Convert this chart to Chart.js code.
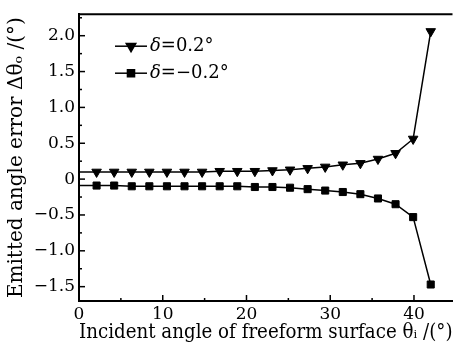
<!DOCTYPE html>
<html>
<head>
<meta charset="utf-8">
<script src="https://cdn.jsdelivr.net/npm/chart.js@4/dist/chart.umd.min.js"></script>
<style>
html, body { margin: 0; padding: 0; background: #fff; overflow: hidden; }
#wrap { width: 459px; height: 344px; }
</style>
</head>
<body>
<div id="wrap"><canvas id="err-chart" width="459" height="344"></canvas></div>
<script>
// incident angle (deg) and emitted angle error (deg) for both deviations
const incidentAngles = [0, 2.1, 4.2, 6.3, 8.4, 10.5, 12.6, 14.7, 16.8, 18.9, 21,
                        23.1, 25.2, 27.3, 29.4, 31.5, 33.6, 35.7, 37.8, 39.9, 42];
const errPlus  = [0.10, 0.10, 0.10, 0.10, 0.10, 0.10, 0.10, 0.10, 0.11, 0.11, 0.11,
                  0.12, 0.13, 0.15, 0.17, 0.20, 0.22, 0.28, 0.36, 0.56, 2.06];
const errMinus = [-0.09, -0.09, -0.09, -0.10, -0.10, -0.10, -0.10, -0.10, -0.10, -0.10, -0.11,
                  -0.11, -0.12, -0.14, -0.16, -0.18, -0.21, -0.27, -0.35, -0.53, -1.47];
const seriesNames = ['δ=0.2°', 'δ=−0.2°'];
const seriesMarkers = ['triangle', 'rect'];
const xTickValues = [0, 10, 20, 30, 40];
const yTickValues = [-1.5, -1, -0.5, 0, 0.5, 1, 1.5, 2];

const serif = "'DejaVu Serif', serif";
const black = '#000';

function toPoints(values){
  return incidentAngles.map(function(a, i){ return {x: a, y: values[i]}; });
}

// first point sits on the y axis and is hidden in the original
function hideFirst(size){
  return function(c){ return c.dataIndex === 0 ? 0 : size; };
}

// inward tick marks, top frame line and the legend inside the plot
const framePlugin = {
  id: 'frame',
  afterDraw: function(chart){
    const ctx = chart.ctx;
    const a = chart.chartArea;
    const xs = chart.scales.x, ys = chart.scales.y;
    ctx.save();
    ctx.strokeStyle = black;
    ctx.lineWidth = 2;
    ctx.beginPath();
    ctx.moveTo(a.left - 1, a.top);
    ctx.lineTo(a.right, a.top);
    ctx.stroke();

    ctx.lineWidth = 1.5;
    yTickValues.forEach(function(v){
      [[v, 6], [v + 0.25, 3]].forEach(function(t){
        if (t[0] > ys.max) return;
        const py = ys.getPixelForValue(t[0]);
        ctx.beginPath();
        ctx.moveTo(a.left, py);
        ctx.lineTo(a.left + t[1], py);
        ctx.stroke();
      });
    });
    xTickValues.forEach(function(v){
      [[v, 6], [v + 5, 3]].forEach(function(t){
        if (t[0] > xs.max || t[0] === 0) return;
        const px = xs.getPixelForValue(t[0]);
        ctx.beginPath();
        ctx.moveTo(px, a.bottom);
        ctx.lineTo(px, a.bottom - t[1]);
        ctx.stroke();
      });
    });

    // legend
    seriesNames.forEach(function(name, i){
      const ly = a.top + 32 + i * 27;
      ctx.lineWidth = 1.5;
      ctx.beginPath();
      ctx.moveTo(115, ly);
      ctx.lineTo(147, ly);
      ctx.stroke();
      ctx.fillStyle = black;
      Chart.helpers.drawPoint(ctx, {
        pointStyle: seriesMarkers[i],
        radius: i === 0 ? 5.5 : 5,
        rotation: i === 0 ? 180 : 0,
        borderWidth: 1
      }, 131, ly);
      ctx.textBaseline = 'middle';
      ctx.textAlign = 'left';
      ctx.font = 'italic 18px ' + serif;
      ctx.fillText(name.charAt(0), 150, ly);
      const w = ctx.measureText(name.charAt(0)).width;
      ctx.font = '18px ' + serif;
      ctx.fillText(name.slice(1), 150 + w, ly);
    });
    ctx.restore();
  }
};

const config = {
  type: 'line',
  data: {
    datasets: [{
      label: seriesNames[0],
      data: toPoints(errPlus),
      borderColor: black,
      backgroundColor: black,
      borderWidth: 1.5,
      pointStyle: 'triangle',
      rotation: 180,
      pointRadius: hideFirst(5.5),
      pointBorderWidth: 1,
      fill: false,
      tension: 0
    }, {
      label: seriesNames[1],
      data: toPoints(errMinus),
      borderColor: black,
      backgroundColor: black,
      borderWidth: 1.5,
      pointStyle: 'rect',
      pointRadius: hideFirst(5),
      pointBorderWidth: 1,
      fill: false,
      tension: 0
    }]
  },
  options: {
    responsive: false,
    animation: false,
    layout: { padding: { top: 13, right: 0, left: 0, bottom: 0 } },
    plugins: { legend: { display: false }, tooltip: { enabled: false } },
    scales: {
      x: {
        type: 'linear',
        min: 0,
        max: 44.6,
        afterBuildTicks: function(s){ s.ticks = xTickValues.map(function(v){ return {value: v}; }); },
        afterFit: function(s){ s.height = 43; },
        grid: { display: false, drawTicks: false },
        border: { display: true, color: black, width: 2 },
        ticks: { color: black, font: { family: serif, size: 17 }, padding: 3, maxRotation: 0 },
        title: {
          display: true,
          text: 'Incident angle of freeform surface θᵢ /(°)',
          color: black,
          font: { family: serif, size: 20 },
          padding: { top: 0, bottom: -1 }
        }
      },
      y: {
        min: -1.7,
        max: 2.3,
        afterBuildTicks: function(s){ s.ticks = yTickValues.map(function(v){ return {value: v}; }); },
        afterFit: function(s){ s.width = 79; },
        grid: { display: false, drawTicks: false },
        border: { display: true, color: black, width: 2 },
        ticks: {
          color: black,
          font: { family: serif, size: 17 },
          padding: 4,
          callback: function(v){ return v === 0 ? '0' : v.toFixed(1).replace('-', '−'); }
        },
        title: {
          display: true,
          text: 'Emitted angle error Δθₒ /(°)',
          color: black,
          font: { family: serif, size: 20 },
          padding: { top: 5, bottom: 0 }
        }
      }
    }
  },
  plugins: [framePlugin]
};

new Chart(document.getElementById('err-chart'), config);
</script>
</body>
</html>
